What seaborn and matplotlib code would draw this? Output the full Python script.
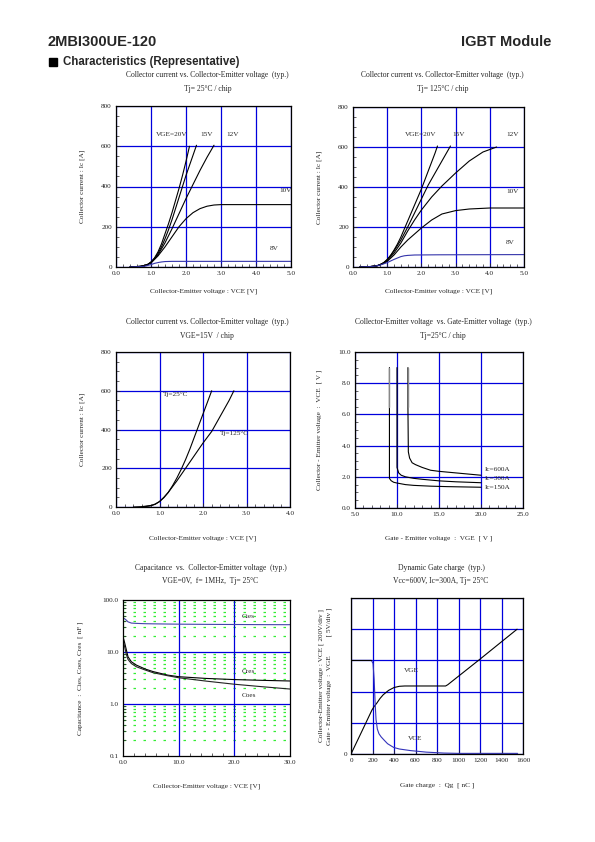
import numpy as np
import pandas as pd
import matplotlib
matplotlib.use("Agg")
import matplotlib.pyplot as plt
import seaborn as sns
from matplotlib.patches import Rectangle
from matplotlib.ticker import MultipleLocator, LogLocator, FixedLocator, NullFormatter

# ---------------- data ----------------
# Plot 1: Ic vs VCE, Tj=25C
vce_25_20 = [0.4, 0.7, 0.9, 1.0, 1.1, 1.2, 1.3, 1.4, 1.5, 1.6, 1.7, 1.8, 1.9, 2.0, 2.1]
ic_25_20 = [0, 3, 12, 25, 45, 75, 115, 165, 215, 270, 330, 390, 455, 525, 600]
vce_25_15 = [0.4, 0.7, 0.9, 1.0, 1.1, 1.2, 1.3, 1.4, 1.5, 1.6, 1.7, 1.8, 1.9, 2.0, 2.1, 2.2, 2.3]
ic_25_15 = [0, 3, 12, 24, 42, 68, 100, 140, 185, 235, 290, 345, 400, 455, 505, 555, 605]
vce_25_12 = [0.4, 0.7, 0.9, 1.0, 1.2, 1.4, 1.6, 1.8, 2.0, 2.2, 2.4, 2.6, 2.8]
ic_25_12 = [0, 3, 11, 22, 60, 120, 190, 265, 340, 410, 480, 545, 605]
vce_25_10 = [0.4, 0.8, 1.0, 1.2, 1.4, 1.6, 1.8, 2.0, 2.2, 2.4, 2.6, 2.8, 3.0, 3.5, 5.0]
ic_25_10 = [0, 5, 20, 55, 100, 150, 200, 240, 270, 290, 302, 308, 310, 310, 310]
vce_25_8 = [0.4, 0.8, 1.0, 1.1, 1.2, 1.3, 1.4, 1.6, 2.0, 3.0, 5.0]
ic_25_8 = [0, 3, 12, 18, 22, 25, 27, 28, 28, 28, 28]

# Plot 2: Ic vs VCE, Tj=125C
vce_125_20 = [0.2, 0.5, 0.7, 0.8, 0.9, 1.0, 1.1, 1.2, 1.3, 1.4, 1.5, 1.6, 1.7, 1.8, 1.9, 2.0, 2.1, 2.2, 2.3, 2.4, 2.47]
ic_125_20 = [0, 2, 6, 12, 22, 38, 58, 85, 115, 150, 190, 230, 270, 310, 350, 390, 435, 480, 525, 570, 605]
vce_125_15 = [0.2, 0.5, 0.7, 0.8, 0.9, 1.0, 1.2, 1.4, 1.6, 1.8, 2.0, 2.2, 2.4, 2.6, 2.85]
ic_125_15 = [0, 2, 6, 12, 22, 36, 80, 135, 200, 270, 340, 410, 470, 530, 605]
vce_125_12 = [0.2, 0.5, 0.7, 0.9, 1.0, 1.2, 1.4, 1.6, 1.8, 2.0, 2.3, 2.6, 3.0, 3.4, 3.8, 4.2]
ic_125_12 = [0, 2, 6, 20, 32, 70, 120, 180, 235, 285, 350, 405, 470, 530, 575, 600]
vce_125_10 = [0.2, 0.5, 0.7, 0.9, 1.0, 1.2, 1.4, 1.6, 1.8, 2.0, 2.3, 2.6, 3.0, 3.4, 4.0, 5.0]
ic_125_10 = [0, 2, 6, 18, 28, 60, 100, 135, 165, 195, 235, 265, 282, 290, 295, 295]
vce_125_8 = [0.2, 0.6, 0.8, 0.9, 1.0, 1.1, 1.2, 1.3, 1.4, 1.5, 1.6, 1.8, 2.5, 5.0]
ic_125_8 = [0, 3, 10, 16, 22, 30, 38, 45, 52, 56, 58, 60, 61, 62]

# Plot 3: Ic vs VCE, VGE=15V
vce_tj25 = [0.4, 0.6, 0.8, 0.9, 1.0, 1.1, 1.2, 1.3, 1.4, 1.5, 1.6, 1.7, 1.8, 1.9, 2.0, 2.1, 2.2]
ic_tj25 = [0, 2, 8, 15, 28, 48, 75, 110, 150, 195, 245, 300, 360, 420, 480, 540, 600]
vce_tj125 = [0.6, 0.8, 0.9, 1.0, 1.1, 1.2, 1.3, 1.4, 1.6, 1.8, 2.0, 2.2, 2.4, 2.6, 2.71]
ic_tj125 = [0, 6, 14, 28, 50, 75, 105, 135, 200, 265, 330, 390, 470, 550, 600]

# Plot 4: VCE vs VGE, Tj=25C
vge_150 = [9.1, 9.1, 9.1, 9.3, 9.6, 10.0, 11, 12, 14, 16, 18, 20]
vce_150 = [9.0, 6.5, 1.9, 1.75, 1.65, 1.6, 1.5, 1.45, 1.4, 1.37, 1.35, 1.33]
vge_300 = [10.0, 10.0, 10.0, 10.2, 10.5, 11, 12, 13, 15, 17, 20]
vce_300 = [9.0, 3.0, 2.6, 2.25, 2.1, 2.0, 1.9, 1.84, 1.74, 1.68, 1.62]
vge_600 = [11.3, 11.3, 11.35, 11.5, 11.8, 12.2, 13, 14, 15, 17, 20]
vce_600 = [9.0, 6.5, 3.6, 3.2, 2.9, 2.78, 2.6, 2.42, 2.35, 2.25, 2.1]

# Plot 5: capacitance vs VCE
vce_cap = [0, 0.3, 0.6, 0.9, 1.5, 2.4, 4, 5.4, 8, 10, 15, 20, 25, 30]
cies = [45, 43.5, 41, 38, 36, 35.5, 35, 34.8, 34.5, 34.3, 34, 33.8, 33.6, 33.5]
cres = [19.7, 15, 11, 8.1, 6.5, 5.6, 4.7, 4.2, 3.6, 3.35, 3.1, 2.95, 2.85, 2.77]
coes = [17, 12.5, 9, 7.2, 6, 5.2, 4.5, 4.0, 3.5, 3.2, 2.75, 2.4, 2.15, 1.94]

# Plot 6: dynamic gate charge (VGE in V at 5V/div, VCE in V at 200V/div)
qg_vge = [0, 100, 195, 215, 240, 270, 300, 350, 400, 450, 500, 880, 900, 1200, 1545]
vge_qg = [0, 3.6, 7.05, 7.6, 8.15, 8.9, 9.5, 10.2, 10.65, 10.85, 10.9, 10.9, 11.1, 15.2, 20.0]
qg_vce = [0, 190, 205, 215, 225, 233, 245, 260, 280, 304, 340, 397, 450, 552, 700, 862, 1000, 1550]
vce_qg = [600, 600, 580, 480, 320, 220, 160, 130, 110, 92, 66, 42, 32, 22, 12, 6, 4, 4]

# ---------------- figure setup ----------------
sns.set_style("ticks")
plt.rcParams['font.family'] = ['Liberation Serif', 'DejaVu Serif']
plt.rcParams['xtick.direction'] = 'in'
plt.rcParams['ytick.direction'] = 'in'

W, H = 595, 842
fig = plt.figure(figsize=(W / 100, H / 100), dpi=100)

BLUE = '#0000dd'
GRN = '#33ee33'
FS = 5.2


def px_axes(l, t, r, b):
    return fig.add_axes([l / W, 1 - b / H, (r - l) / W, (b - t) / H])


def ftext(x, y, s, **kw):
    fig.text(x / W, 1 - y / H, s, **kw)


def style(ax):
    for sp in ax.spines.values():
        sp.set_linewidth(0.9)
        sp.set_color('black')
    ax.tick_params(which='major', length=3, width=0.6, labelsize=FS, pad=3)
    ax.tick_params(which='minor', length=2, width=0.5)
    ax.grid(True, which='major', color=BLUE, lw=0.9)
    ax.set_axisbelow(True)


def line(ax, x, y, color='black', lw=0.8):
    sns.lineplot(x=x, y=y, ax=ax, color=color, lw=lw, sort=False, estimator=None)


def titles(ax_l, ax_r, t1, t2, y1, y2):
    cx = (ax_l + ax_r) / 2 + 4
    ftext(cx, y1, t1, ha='center', va='center', fontsize=FS + 0.3)
    ftext(cx, y2, t2, ha='center', va='center', fontsize=FS + 0.3)


# ---------------- header ----------------
hdr = ['Liberation Sans', 'DejaVu Sans']
ftext(48, 42, '2MBI300UE-120', fontsize=10.5, fontweight='bold', family=hdr, va='center')
ftext(551, 42, 'IGBT Module', fontsize=10.5, fontweight='bold', family=hdr, va='center', ha='right')
fig.patches.append(Rectangle((49 / W, 1 - 66 / H), 8 / W, 8 / H, color='black',
                             transform=fig.transFigure, figure=fig))
ftext(63, 62, 'Characteristics (Representative)', fontsize=8.3, fontweight='bold',
      family=hdr, va='center')

# ---------------- plot 1 ----------------
ax1 = px_axes(116, 106, 291, 267)
for x, y, c in [(vce_25_20, ic_25_20, 'black'), (vce_25_15, ic_25_15, 'black'),
                (vce_25_12, ic_25_12, 'black'), (vce_25_10, ic_25_10, 'black'),
                (vce_25_8, ic_25_8, '#3333aa')]:
    line(ax1, x, y, c)
ax1.set_xlim(0, 5)
ax1.set_ylim(0, 800)
ax1.xaxis.set_major_locator(MultipleLocator(1))
ax1.yaxis.set_major_locator(MultipleLocator(200))
ax1.xaxis.set_minor_locator(MultipleLocator(0.2))
ax1.yaxis.set_minor_locator(MultipleLocator(50))
style(ax1)
ax1.xaxis.set_major_formatter(plt.FuncFormatter(lambda v, p: '%.1f' % v))
ax1.yaxis.set_major_formatter(plt.FuncFormatter(lambda v, p: '%d' % v))
for s, x, y in [('VGE=20V', 1.14, 656), ('15V', 2.42, 656), ('12V', 3.15, 656),
                ('10V', 4.67, 378), ('8V', 4.38, 94)]:
    ax1.text(x, y, s, fontsize=FS, va='center')
ax1.set_xlabel('Collector-Emitter voltage : VCE [V]', fontsize=FS, labelpad=9)
ax1.set_ylabel('Collector current : Ic [A]', fontsize=FS, labelpad=12)
titles(116, 291, 'Collector current vs. Collector-Emitter voltage  (typ.)', 'Tj= 25\u00b0C / chip', 75, 89)

# ---------------- plot 2 ----------------
ax2 = px_axes(353, 107, 524, 267)
for x, y, c in [(vce_125_20, ic_125_20, 'black'), (vce_125_15, ic_125_15, 'black'),
                (vce_125_12, ic_125_12, 'black'), (vce_125_10, ic_125_10, 'black'),
                (vce_125_8, ic_125_8, '#3333aa')]:
    line(ax2, x, y, c)
ax2.set_xlim(0, 5)
ax2.set_ylim(0, 800)
ax2.xaxis.set_major_locator(MultipleLocator(1))
ax2.yaxis.set_major_locator(MultipleLocator(200))
ax2.xaxis.set_minor_locator(MultipleLocator(0.2))
ax2.yaxis.set_minor_locator(MultipleLocator(50))
style(ax2)
ax2.xaxis.set_major_formatter(plt.FuncFormatter(lambda v, p: '%.1f' % v))
ax2.yaxis.set_major_formatter(plt.FuncFormatter(lambda v, p: '%d' % v))
for s, x, y in [('VGE=20V', 1.51, 663), ('15V', 2.91, 663), ('12V', 4.47, 663),
                ('10V', 4.47, 378), ('8V', 4.47, 122)]:
    ax2.text(x, y, s, fontsize=FS, va='center')
ax2.set_xlabel('Collector-Emitter voltage : VCE [V]', fontsize=FS, labelpad=9)
ax2.set_ylabel('Collector current : Ic [A]', fontsize=FS, labelpad=12)
titles(353, 524, 'Collector current vs. Collector-Emitter voltage  (typ.)', 'Tj= 125\u00b0C / chip', 75, 89)

# ---------------- plot 3 ----------------
ax3 = px_axes(116, 352, 290, 507)
line(ax3, vce_tj25, ic_tj25)
line(ax3, vce_tj125, ic_tj125)
ax3.set_xlim(0, 4)
ax3.set_ylim(0, 800)
ax3.xaxis.set_major_locator(MultipleLocator(1))
ax3.yaxis.set_major_locator(MultipleLocator(200))
ax3.xaxis.set_minor_locator(MultipleLocator(0.2))
ax3.yaxis.set_minor_locator(MultipleLocator(50))
style(ax3)
ax3.xaxis.set_major_formatter(plt.FuncFormatter(lambda v, p: '%.1f' % v))
ax3.yaxis.set_major_formatter(plt.FuncFormatter(lambda v, p: '%d' % v))
ax3.text(1.08, 582, 'Tj=25\u00b0C', fontsize=FS, va='center')
ax3.text(2.38, 380, 'Tj=125\u00b0C', fontsize=FS, va='center')
ax3.set_xlabel('Collector-Emitter voltage : VCE [V]', fontsize=FS, labelpad=14)
ax3.set_ylabel('Collector current : Ic [A]', fontsize=FS, labelpad=12)
titles(116, 290, 'Collector current vs. Collector-Emitter voltage  (typ.)', 'VGE=15V  / chip', 322, 336)

# ---------------- plot 4 ----------------
ax4 = px_axes(355, 352, 523, 508)
line(ax4, vge_150, vce_150)
line(ax4, vge_300, vce_300)
line(ax4, vge_600, vce_600)
# upper vertical parts are drawn lighter in the original
line(ax4, vge_150[:2], vce_150[:2], '#888888', 1.0)
line(ax4, vge_600[:2], vce_600[:2], '#888888', 1.0)
ax4.set_xlim(5, 25)
ax4.set_ylim(0, 10)
ax4.xaxis.set_major_locator(MultipleLocator(5))
ax4.yaxis.set_major_locator(MultipleLocator(2))
ax4.xaxis.set_minor_locator(MultipleLocator(1))
ax4.yaxis.set_minor_locator(MultipleLocator(0.5))
style(ax4)
ax4.xaxis.set_major_formatter(plt.FuncFormatter(lambda v, p: '%.1f' % v))
ax4.yaxis.set_major_formatter(plt.FuncFormatter(lambda v, p: '%.1f' % v))
for s, y in [('Ic=600A', 2.49), ('Ic=300A', 1.89), ('Ic=150A', 1.29)]:
    ax4.text(20.5, y, s, fontsize=FS, va='center')
ax4.set_xlabel('Gate - Emitter voltage  :  VGE  [ V ]', fontsize=FS, labelpad=13)
ax4.set_ylabel('Collector - Emitter voltage  :  VCE  [ V ]', fontsize=FS, labelpad=12)
titles(355, 523, 'Collector-Emitter voltage  vs. Gate-Emitter voltage  (typ.)', 'Tj=25\u00b0C / chip', 322, 336)

# ---------------- plot 5 ----------------
ax5 = px_axes(123, 600, 290, 756)
ax5.set_yscale('log')
ax5.set_xlim(0, 30)
ax5.set_ylim(0.1, 100)
ax5.yaxis.set_major_locator(FixedLocator([0.1, 1, 10, 100]))
ax5.yaxis.set_minor_locator(LogLocator(base=10, subs=np.arange(2, 10)))
ax5.yaxis.set_minor_formatter(NullFormatter())
ax5.xaxis.set_major_locator(MultipleLocator(10))
ax5.xaxis.set_minor_locator(MultipleLocator(2))
style(ax5)
ax5.grid(True, which='minor', axis='y', color=GRN, lw=0.9, linestyle=(0, (2, 6)))
ax5.grid(False, which='major', axis='y')
ax5.grid(False, which='major', axis='x')
for yv in [1, 10]:
    ax5.axhline(yv, color=BLUE, lw=0.9, zorder=1)
for xv in [10, 20]:
    ax5.axvline(xv, color=BLUE, lw=0.9, zorder=1)
line(ax5, vce_cap, cies, '#4444aa')
line(ax5, vce_cap, cres, 'black')
line(ax5, vce_cap, coes, '#222222')
ax5.xaxis.set_major_formatter(plt.FuncFormatter(lambda v, p: '%.1f' % v))
ax5.yaxis.set_major_formatter(plt.FuncFormatter(lambda v, p: '%.1f' % v))
ax5.text(21.3, 47.9, 'Cies', fontsize=FS, va='center')
ax5.text(21.3, 4.19, 'Cres', fontsize=FS, va='center')
ax5.text(21.3, 1.45, 'Coes', fontsize=FS, va='center')
ax5.set_xlabel('Collector-Emitter voltage : VCE [V]', fontsize=FS, labelpad=13)
ax5.set_ylabel('Capacitance  :  Cies, Coes, Cres  [ nF ]', fontsize=FS, labelpad=14)
titles(123, 290, 'Capacitance  vs.  Collector-Emitter voltage  (typ.)', 'VGE=0V,  f= 1MHz,  Tj= 25\u00b0C', 568, 581)

# ---------------- plot 6 ----------------
ax6 = px_axes(351, 598, 523, 754)
line(ax6, qg_vge, np.array(vge_qg) / 5, 'black')
line(ax6, qg_vce, np.array(vce_qg) / 200, '#3333bb')
line(ax6, qg_vce[:2], np.array(vce_qg[:2]) / 200, 'black')
ax6.set_xlim(0, 1600)
ax6.set_ylim(0, 5)
ax6.xaxis.set_major_locator(MultipleLocator(200))
ax6.yaxis.set_major_locator(MultipleLocator(1))
style(ax6)
ax6.tick_params(axis='y', length=0)
ax6.yaxis.set_major_formatter(plt.FuncFormatter(lambda v, p: '0' if v == 0 else ''))
ax6.text(558, 2.69, 'VGE', fontsize=FS, ha='center', va='center')
ax6.text(595, 0.49, 'VCE', fontsize=FS, ha='center', va='center')
ax6.set_xlabel('Gate charge  :  Qg  [ nC ]', fontsize=FS, labelpad=14)
ax6.set_ylabel('Collector-Emitter voltage : VCE [ 200V/div ]\n'
               'Gate - Emitter voltage  :  VGE          [ 5V/div ]',
               fontsize=FS, labelpad=8, linespacing=1.6)
titles(351, 523, 'Dynamic Gate charge  (typ.)', 'Vcc=600V, Ic=300A, Tj= 25\u00b0C', 568, 581)

fig.savefig('out.png', dpi=100)
